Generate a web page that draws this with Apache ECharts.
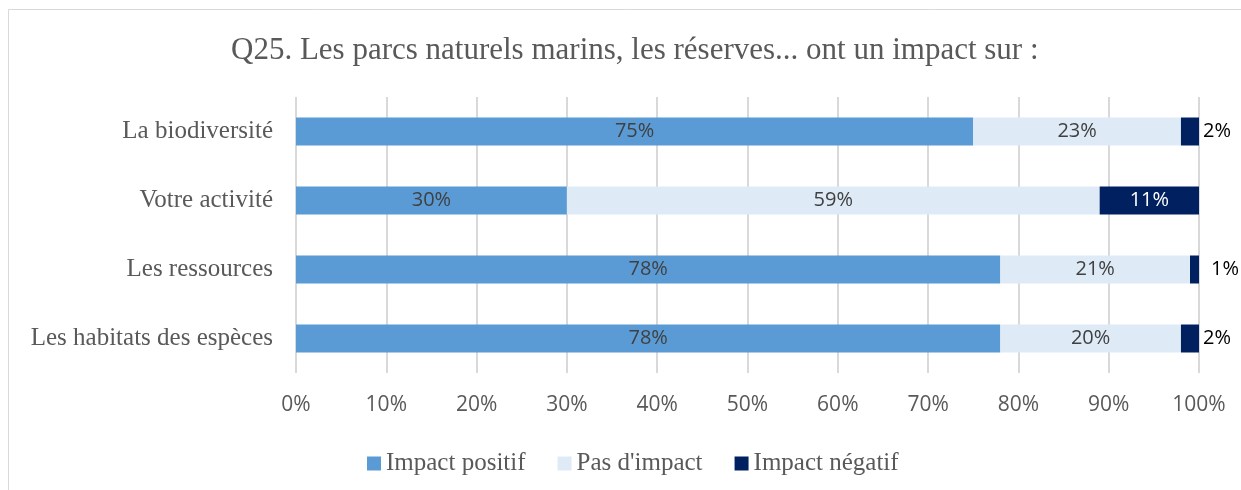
<!DOCTYPE html>
<html>
<head>
<meta charset="utf-8">
<script src="https://cdn.jsdelivr.net/npm/echarts@6/dist/echarts.min.js"></script>
<style>
  html, body { margin: 0; padding: 0; background: #fff; }
  #chart { width: 1241px; height: 490px; }
</style>
</head>
<body>
<div id="chart"></div>
<script>
// données
const categories = ['La biodiversité', 'Votre activité', 'Les ressources', 'Les habitats des espèces'];
const positif = [75, 30, 78, 78];
const pasImpact = [23, 59, 21, 20];
const negatif = [2, 11, 1, 2];
const xTicks = [0, 10, 20, 30, 40, 50, 60, 70, 80, 90, 100];

const serif = '"Liberation Serif", "DejaVu Serif", serif';
const sans = '"Open Sans", "Noto Sans", sans-serif';

const chart = echarts.init(document.getElementById('chart'), null, { renderer: 'canvas' });

// petites valeurs négatives : étiquette à l'extérieur de la barre
const negData = negatif.map(function (v) {
  if (v >= 5) return v;
  return {
    value: v,
    label: {
      position: 'right',
      distance: v < 2 ? 12 : 4,
      color: '#000'
    }
  };
});

chart.setOption({
  animation: false,
  backgroundColor: '#fff',
  graphic: [{
    type: 'rect',
    shape: { x: 8.5, y: 9.5, width: 1240, height: 490 },
    style: { fill: 'none', stroke: '#d9d9d9', lineWidth: 1 },
    silent: true
  }],
  title: {
    text: 'Q25. Les parcs naturels marins, les réserves... ont un impact sur :',
    left: 226,
    top: 30,
    textStyle: { fontFamily: serif, fontSize: 31, fontWeight: 'normal', color: '#595959' }
  },
  legend: {
    top: 446,
    left: 362,
    itemWidth: 14,
    itemHeight: 14,
    itemGap: 32,
    icon: 'rect',
    textStyle: { fontFamily: serif, fontSize: 25, color: '#595959' },
    data: ['Impact positif', "Pas d'impact", 'Impact négatif']
  },
  grid: { left: 296, right: 42, top: 97, bottom: 117 },
  xAxis: {
    type: 'value',
    min: xTicks[0],
    max: xTicks[xTicks.length - 1],
    interval: 10,
    axisLine: { show: false },
    axisTick: { show: false },
    axisLabel: {
      formatter: '{value}%',
      fontFamily: sans,
      fontSize: 21,
      color: '#595959',
      margin: 22
    },
    splitLine: { lineStyle: { color: '#d9d9d9', width: 2 } }
  },
  yAxis: {
    type: 'category',
    inverse: true,
    data: categories,
    axisLine: { show: false },
    axisTick: { show: false },
    axisLabel: { fontFamily: serif, fontSize: 25, color: '#595959', margin: 23 }
  },
  series: [
    {
      name: 'Impact positif',
      type: 'bar',
      stack: 'total',
      barWidth: 28,
      data: positif,
      itemStyle: { color: '#5B9BD5' },
      label: { show: true, position: 'inside', formatter: '{c}%', fontFamily: sans, fontSize: 20, color: '#404040' }
    },
    {
      name: "Pas d'impact",
      type: 'bar',
      stack: 'total',
      data: pasImpact,
      itemStyle: { color: '#DEEBF7' },
      label: { show: true, position: 'inside', formatter: '{c}%', fontFamily: sans, fontSize: 20, color: '#404040' }
    },
    {
      name: 'Impact négatif',
      type: 'bar',
      stack: 'total',
      data: negData,
      itemStyle: { color: '#002060' },
      label: { show: true, position: 'inside', formatter: '{c}%', fontFamily: sans, fontSize: 20, color: '#fff' }
    }
  ]
});
</script>
</body>
</html>
